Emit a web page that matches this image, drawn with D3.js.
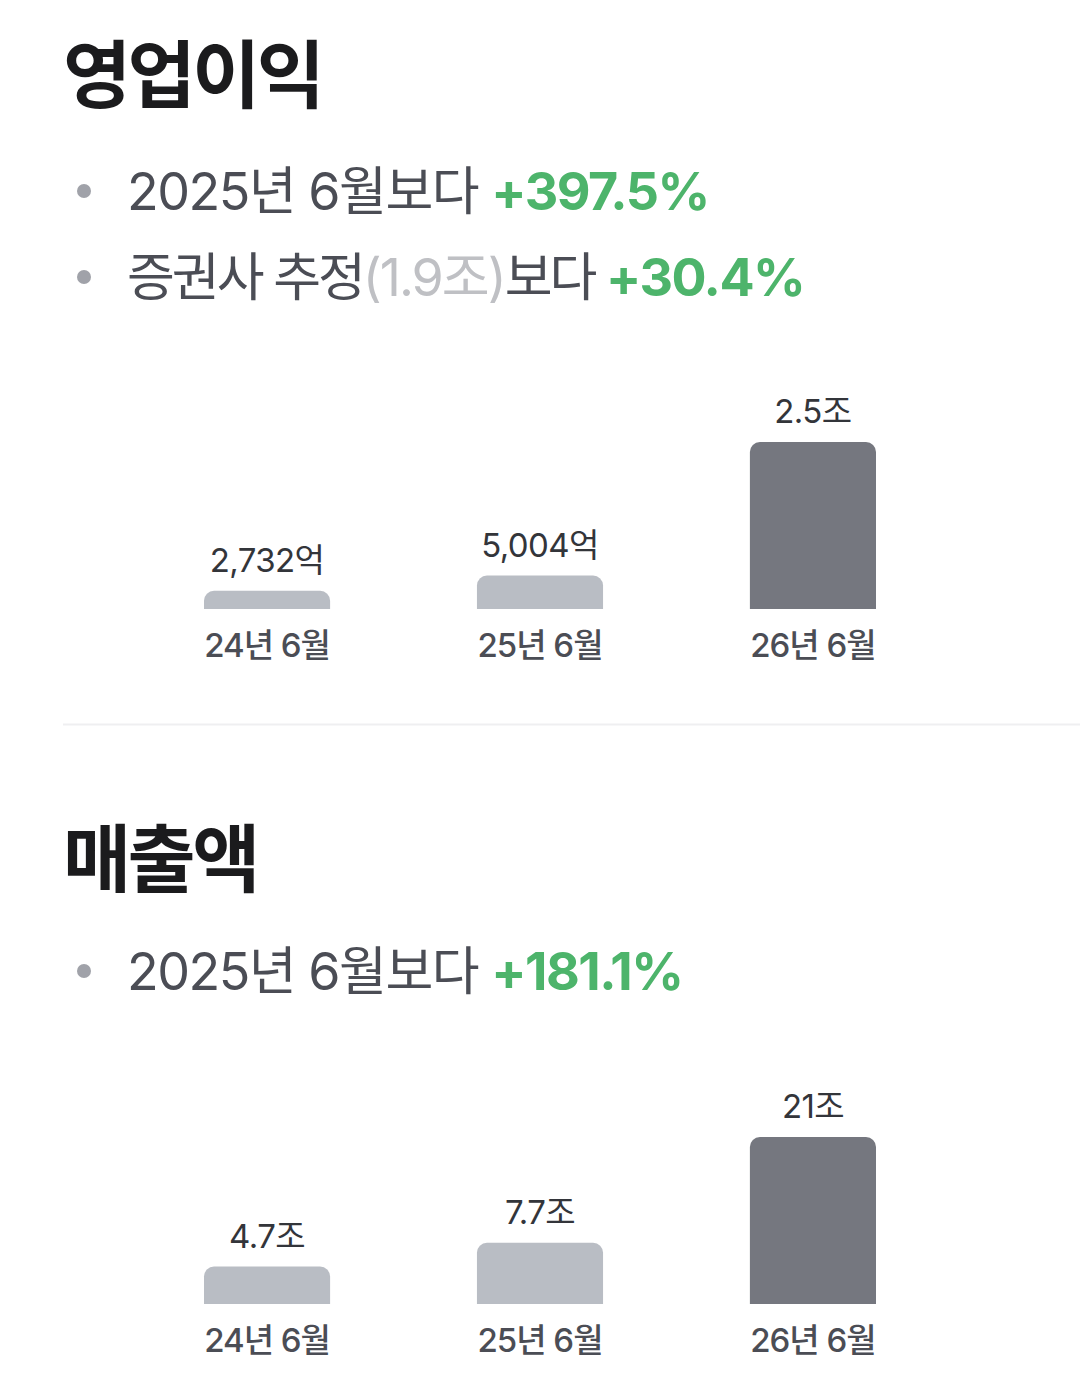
<!DOCTYPE html>
<html><head><meta charset="utf-8">
<script src="https://cdn.jsdelivr.net/npm/d3@7"></script>
<style>
html,body{margin:0;padding:0;background:#fff;}
svg{display:block;font-family:Inter,"Noto Sans CJK KR","Noto Sans",sans-serif;}
</style></head>
<body>
<script>
const categories = ["24년 6월", "25년 6월", "26년 6월"];
const opValues = [2732, 5004, 25000];            // 억원
const opLabels = ["2,732억", "5,004억", "2.5조"];
const salesValues = [4.7, 7.7, 21];              // 조원
const salesLabels = ["4.7조", "7.7조", "21조"];
const opTitle = "영업이익";
const salesTitle = "매출액";
const opBullets = [
  [{t:"2025년 6월보다 ", c:"txt"}, {t:"+397.5%", c:"green"}],
  [{t:"증권사 추정", c:"txt", tight:true}, {t:"(1.9조)", c:"light"}, {t:"보다 ", c:"txt", tight:true}, {t:"+30.4%", c:"green"}]
];
const salesBullets = [
  [{t:"2025년 6월보다 ", c:"txt"}, {t:"+181.1%", c:"green"}]
];

const W = 1080, H = 1381;
const colors = {txt:"#4b4d55", green:"#4db46b", light:"#bfc0c4"};
const barLight = "#b9bdc4", barDark = "#75777f";

const svg = d3.select("body").append("svg").attr("width", W).attr("height", H);

const x = d3.scaleBand().domain(categories).range([204, 876]).paddingInner(0.538).paddingOuter(0);

function roundTop(x0, y0, w, h, r) {
  r = Math.min(r, h, w / 2);
  const p = d3.path();
  p.moveTo(x0, y0 + h);
  p.lineTo(x0, y0 + r);
  p.arcTo(x0, y0, x0 + r, y0, r);
  p.lineTo(x0 + w - r, y0);
  p.arcTo(x0 + w, y0, x0 + w, y0 + r, r);
  p.lineTo(x0 + w, y0 + h);
  p.closePath();
  return p.toString();
}

function section(title, titleY, bullets, bulletY0, values, labels, baseY) {
  const g = svg.append("g");
  g.append("text").attr("x", 63).attr("y", titleY)
    .attr("font-size", 74).attr("font-weight", 700).attr("fill", "#1b1b1d")
    .attr("letter-spacing", -3.5).text(title);

  bullets.forEach((parts, i) => {
    const by = bulletY0 + i * 86;
    g.append("circle").attr("cx", 84).attr("cy", by - 19).attr("r", 7).attr("fill", "#a0a2a9");
    const t = g.append("text").attr("x", 127).attr("y", by).attr("font-size", 52);
    parts.forEach(p => {
      t.append("tspan").attr("fill", colors[p.c])
        .attr("font-weight", p.c === "green" ? 700 : 400)
        .attr("letter-spacing", p.tight ? -3 : (p.c === "light" ? -2 : -1.5))
        .text(p.t);
    });
  });

  const y = d3.scaleLinear().domain([0, d3.max(values)]).range([baseY, baseY - 167]);
  const data = categories.map((c, i) => ({c, v: values[i], l: labels[i], i}));

  g.selectAll("path.bar").data(data).join("path").attr("class", "bar")
    .attr("d", d => roundTop(x(d.c), y(d.v), x.bandwidth(), baseY - y(d.v), 10))
    .attr("fill", d => d.i === data.length - 1 ? barDark : barLight);

  g.selectAll("text.val").data(data).join("text").attr("class", "val")
    .attr("x", d => x(d.c) + x.bandwidth() / 2).attr("y", d => y(d.v) - 19)
    .attr("text-anchor", "middle").attr("font-size", 33).attr("letter-spacing", -0.6)
    .attr("fill", "#33353a").text(d => d.l);

  g.selectAll("text.cat").data(data).join("text").attr("class", "cat")
    .attr("x", d => x(d.c) + x.bandwidth() / 2).attr("y", baseY + 48)
    .attr("text-anchor", "middle").attr("font-size", 33).attr("font-weight", 500)
    .attr("letter-spacing", -1).attr("fill", "#4b4d55").text(d => d.c);
}

section(opTitle, 102, opBullets, 210, opValues, opLabels, 609);

svg.append("line").attr("x1", 63).attr("x2", W).attr("y1", 724.5).attr("y2", 724.5)
  .attr("stroke", "#efeff1").attr("stroke-width", 2);

section(salesTitle, 886, salesBullets, 990, salesValues, salesLabels, 1304);
</script>
</body></html>
